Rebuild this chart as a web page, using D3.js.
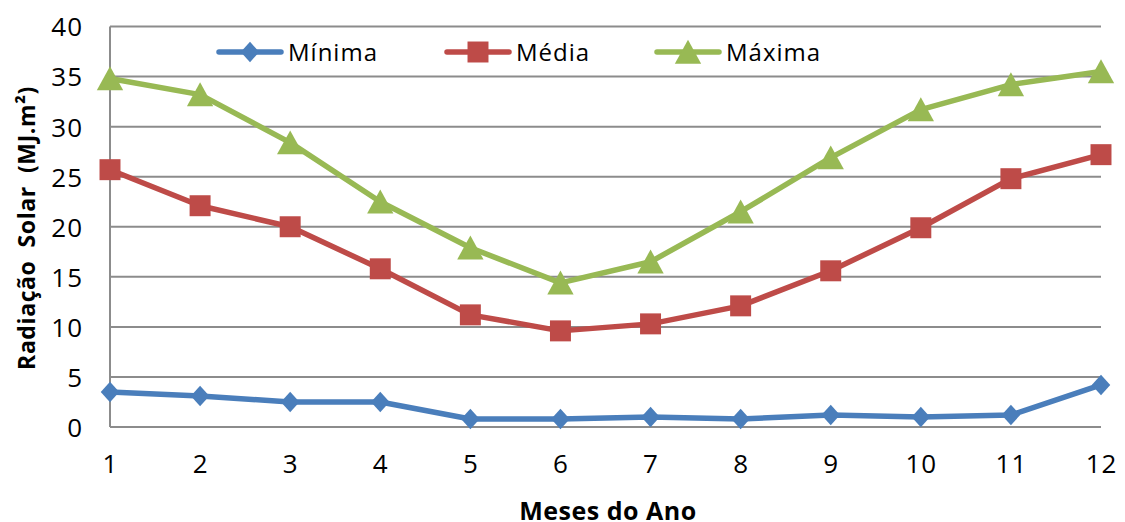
<!DOCTYPE html>
<html>
<head>
<meta charset="utf-8">
<script src="https://cdn.jsdelivr.net/npm/d3@7"></script>
<style>
  html, body { margin: 0; padding: 0; background: #fff; }
  svg { display: block; }
  text { font-family: "Open Sans", "Noto Sans", sans-serif; fill: #000; }
</style>
</head>
<body>
<script>
// Monthly solar radiation (MJ.m²)
const months = [1, 2, 3, 4, 5, 6, 7, 8, 9, 10, 11, 12];
const minima = [3.5, 3.1, 2.5, 2.5, 0.8, 0.8, 1.0, 0.8, 1.2, 1.0, 1.2, 4.2];
const media  = [25.7, 22.1, 20.0, 15.8, 11.2, 9.6, 10.3, 12.1, 15.6, 19.9, 24.8, 27.2];
const maxima = [34.8, 33.2, 28.4, 22.5, 17.9, 14.4, 16.5, 21.5, 26.9, 31.7, 34.2, 35.5];
const yTicks = [0, 5, 10, 15, 20, 25, 30, 35, 40];
const seriesNames = ["Mínima", "Média", "Máxima"];

const W = 1125, H = 522;
const margin = { left: 110, right: 24, top: 26.5, bottom: 95 };

const svg = d3.select("body").append("svg").attr("width", W).attr("height", H);

const x = d3.scaleLinear().domain([1, 12]).range([margin.left, W - margin.right]);
const y = d3.scaleLinear().domain([0, 40]).range([H - margin.bottom, margin.top]);

// Horizontal gridlines
svg.append("g").selectAll("line").data(yTicks).join("line")
  .attr("x1", margin.left).attr("x2", W - margin.right)
  .attr("y1", d => y(d)).attr("y2", d => y(d))
  .attr("stroke", "#8c8c8c").attr("stroke-width", 2);

// Y axis line
svg.append("line")
  .attr("x1", margin.left).attr("x2", margin.left)
  .attr("y1", y(0)).attr("y2", y(40))
  .attr("stroke", "#8c8c8c").attr("stroke-width", 2);

// Y tick labels
const yAxis = d3.axisLeft(y).tickValues(yTicks).tickSize(0).tickPadding(27);
const gy = svg.append("g").attr("transform", `translate(${margin.left},0)`).call(yAxis);
gy.select(".domain").remove();
gy.selectAll("text").attr("font-size", 26).attr("font-family", "Open Sans")
  .attr("letter-spacing", 1).attr("dy", "0.36em");

// X tick labels
const xAxis = d3.axisBottom(x).tickValues(months).tickFormat(d3.format("d")).tickSize(0).tickPadding(28);
const gx = svg.append("g").attr("transform", `translate(0,${y(0)})`).call(xAxis);
gx.select(".domain").remove();
gx.selectAll("text").attr("font-size", 26).attr("font-family", "Open Sans")
  .attr("letter-spacing", 1);

// Axis titles
svg.append("text")
  .attr("x", 608).attr("y", 520)
  .attr("text-anchor", "middle")
  .attr("font-size", 25).attr("font-weight", "bold")
  .attr("letter-spacing", 0.5)
  .text("Meses do Ano");

svg.append("text")
  .attr("transform", "translate(35,228) rotate(-90)")
  .attr("text-anchor", "middle")
  .attr("font-size", 23).attr("font-weight", "bold")
  .attr("letter-spacing", 0.6)
  .attr("xml:space", "preserve")
  .style("white-space", "pre")
  .text("Radiação  Solar  (MJ.m²)");

const colors = ["#4a7ebb", "#be4b48", "#98b954"];
const symbols = [d3.symbolSquare, d3.symbolSquare, d3.symbolTriangle];
const symbolSizes = [190, 440, 300];
// diamond = rotated square; triangle shifted so its box centre sits on the point
const symbolXform = [" scale(0.95,1.05) rotate(45)", "", " translate(0,3.7) scale(1,1.05)"];
const data = [minima, media, maxima];

const line = d3.line().x((d, i) => x(months[i])).y(d => y(d));

data.forEach((vals, k) => {
  const g = svg.append("g");
  g.append("path")
    .datum(vals)
    .attr("d", line)
    .attr("fill", "none")
    .attr("stroke", colors[k])
    .attr("stroke-width", 5.5)
    .attr("stroke-linejoin", "round");
  g.selectAll("path.pt").data(vals).join("path")
    .attr("class", "pt")
    .attr("transform", (d, i) => `translate(${x(months[i])},${y(d)})${symbolXform[k]}`)
    .attr("d", d3.symbol().type(symbols[k]).size(symbolSizes[k]))
    .attr("fill", colors[k]);
});

// Legend
const legendX = [219, 447, 657];
const lg = svg.append("g");
seriesNames.forEach((name, k) => {
  const lx = legendX[k], ly = 52;
  lg.append("line")
    .attr("x1", lx).attr("x2", lx + 62)
    .attr("y1", ly).attr("y2", ly)
    .attr("stroke", colors[k]).attr("stroke-width", 5.5)
    .attr("stroke-linecap", "round");
  lg.append("path")
    .attr("transform", `translate(${lx + 31},${ly})${symbolXform[k]}`)
    .attr("d", d3.symbol().type(symbols[k]).size(symbolSizes[k]))
    .attr("fill", colors[k]);
  lg.append("text")
    .attr("x", lx + 69).attr("y", ly + 9)
    .attr("font-size", 24)
    .attr("letter-spacing", 1)
    .text(name);
});
</script>
</body>
</html>
